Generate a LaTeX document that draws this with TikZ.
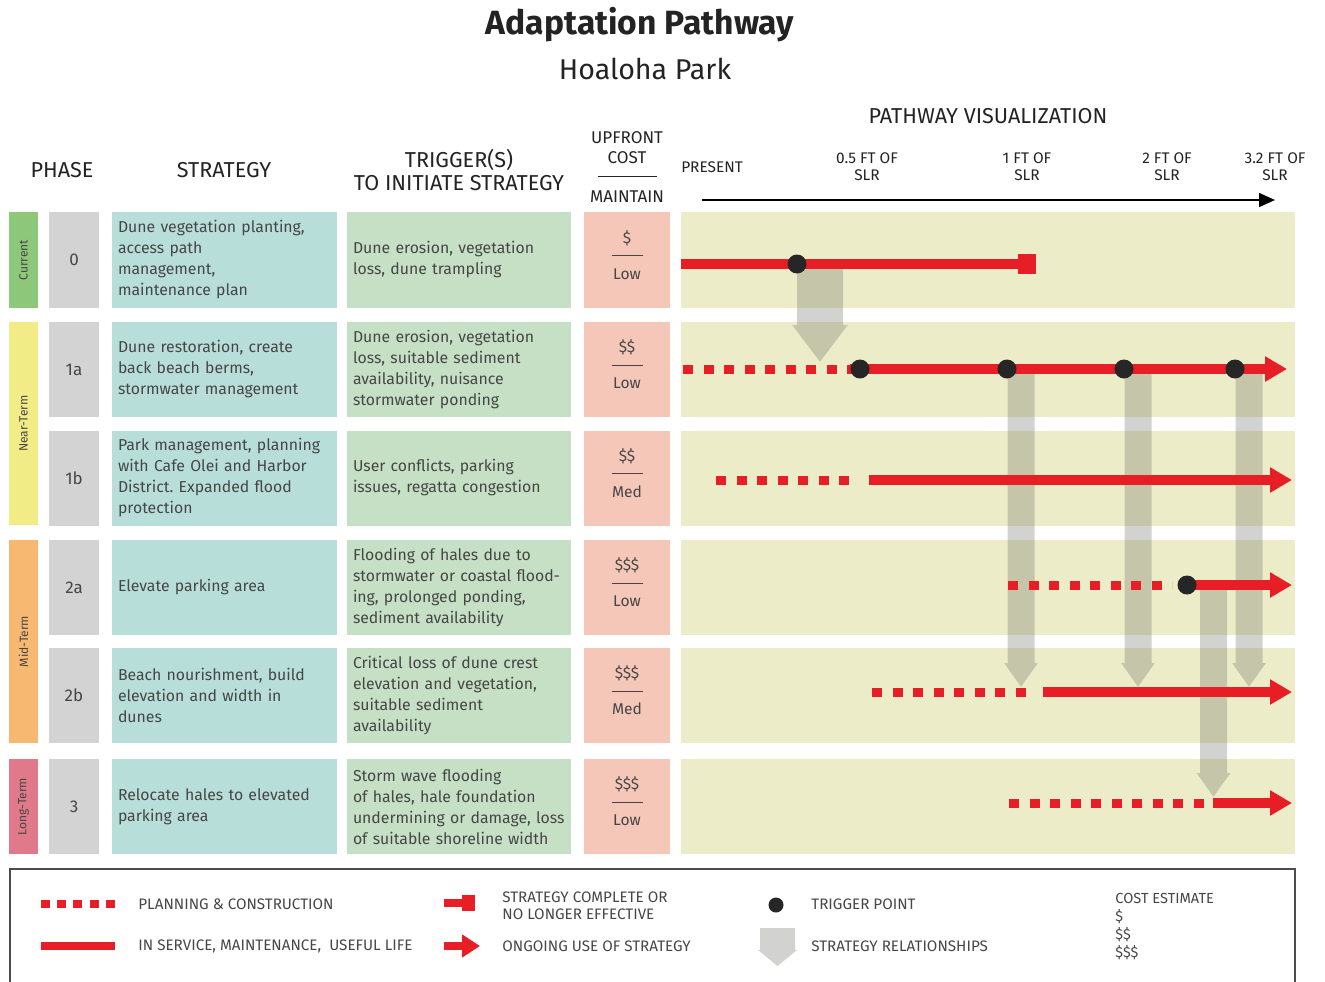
\documentclass[tikz,border=0pt]{standalone}
\usepackage{fontspec}
\setmainfont{Fira Sans}
\usetikzlibrary{arrows.meta,positioning}
\frenchspacing

\definecolor{txtgray}{RGB}{70,70,70}
\definecolor{hdrgray}{RGB}{35,35,35}
\definecolor{curgreen}{RGB}{141,199,121}
\definecolor{nearyellow}{RGB}{241,236,133}
\definecolor{midorange}{RGB}{247,185,114}
\definecolor{longpink}{RGB}{224,122,138}
\definecolor{numgray}{RGB}{211,211,211}
\definecolor{stratteal}{RGB}{184,222,218}
\definecolor{triggreen}{RGB}{197,224,196}
\definecolor{costpink}{RGB}{244,199,184}
\definecolor{bandcol}{RGB}{236,237,200}
\definecolor{pathred}{RGB}{232,30,38}
\definecolor{relgray}{RGB}{105,105,100}

\tikzset{
  phasebar/.style={fill=#1, rotate=90, minimum height=14.5pt, inner sep=0pt,
    text=txtgray, font=\fontsize{6}{7}\selectfont},
  numbox/.style={fill=numgray, minimum width=25pt, minimum height=47.5pt,
    text=txtgray, font=\fontsize{8.5}{10}\selectfont},
  stratbox/.style={fill=stratteal, text width=106.5pt, inner xsep=3pt,
    minimum height=47.5pt, align=left, text=txtgray, font=\fontsize{7.9}{10.5}\selectfont},
  trigbox/.style={fill=triggreen, text width=106pt, inner xsep=3pt,
    minimum height=47.5pt, align=left, text=txtgray, font=\fontsize{7.9}{10.5}\selectfont},
  costbox/.style={fill=costpink, minimum width=43pt, minimum height=47.5pt,
    text depth=5pt, align=center, text=txtgray, font=\fontsize{7.8}{9}\selectfont},
  band/.style={fill=bandcol, minimum width=307pt, minimum height=47.5pt, inner sep=0pt},
  plan/.style={pathred, line width=4.5pt, dash pattern=on 5pt off 5.25pt},
  serve/.style={pathred, line width=5pt},
  ongoing/.style={serve, -{Triangle[length=11pt,width=12pt]}},
  ended/.style={serve, -{Square[length=9pt,width=10pt]}},
  trig/.style={circle, fill=black!85, minimum size=9.5pt, inner sep=0pt},
  rel/.style={relgray, line width=13.5pt, -{Triangle[length=12pt,width=16pt]}},
  bigrel/.style={relgray, line width=23pt, -{Triangle[length=18.5pt,width=26.5pt]}},
  hdr/.style={text=hdrgray, font=\fontsize{10.8}{11.5}\selectfont, align=center},
  slr/.style={text=hdrgray, font=\fontsize{7.7}{8.5}\selectfont, align=center},
  legtxt/.style={anchor=west, inner xsep=0pt, text=txtgray, font=\fontsize{7.6}{8.5}\selectfont, align=left},
}

\begin{document}
\begin{tikzpicture}[x=0.5pt,y=-0.5pt]
\useasboundingbox (0,0) rectangle (1325,981);

% titles and column heads
\node[text=hdrgray, font=\bfseries\fontsize{16.8}{20}\selectfont] (title) at (640,25) {Adaptation Pathway};
\node[text=hdrgray, font=\fontsize{14.3}{16}\selectfont] (park) at (645,69) {Hoaloha Park};
\node[hdr] (pathhd) at (988,116) {PATHWAY VISUALIZATION};
\node[hdr] (phasehd) at (62,170) {PHASE};
\node[hdr] (strathd) at (224,170) {STRATEGY};
\node[hdr] (trighd) at (459,170) {TRIGGER(S)\\TO INITIATE STRATEGY};
\node[hdr, font=\fontsize{8.5}{10}\selectfont] (costhd) at (627,167.5)
  {UPFRONT\\COST\\[-3.4pt]\rule{29.5pt}{0.5pt}\\[2.9pt]MAINTAIN};

% time axis
\node[slr] (present) at (712,167) {PRESENT};
\node[slr] (slr05) at (867,166.5) {0.5 FT OF\\SLR};
\node[slr] (slr1) at (1027,166.5) {1 FT OF\\SLR};
\node[slr] (slr2) at (1167,166.5) {2 FT OF\\SLR};
\node[slr] (slr32) at (1275,166.5) {3.2 FT OF\\SLR};
\coordinate (ax0) at (702,200);
\coordinate (ax1) at (1275,200);
\draw[line width=0.75pt, -{Triangle[length=8pt,width=7pt]}] (ax0) -- (ax1);

% phase bars
\node[phasebar=curgreen, minimum width=48pt] (cur) at (23.5,260) {Current};
\node[phasebar=nearyellow, minimum width=101.5pt] (near) at (23.5,423.5) {Near-Term};
\node[phasebar=midorange, minimum width=101.5pt] (mid) at (23.5,641.5) {Mid-Term};
\node[phasebar=longpink, minimum width=47.5pt] (long) at (23.5,806.5) {Long-Term};

% strategy numbers
\node[numbox, minimum height=48pt] (n0) at (74,260) {0};
\node[numbox] (n1a) at (74,369.5) {1a};
\node[numbox] (n1b) at (74,478) {1b};
\node[numbox] (n2a) at (74,587.5) {2a};
\node[numbox] (n2b) at (74,695.5) {2b};
\node[numbox] (n3) at (74,806.5) {3};

% strategies
\node[stratbox, minimum height=48pt] (s0) at (224.5,260) {Dune vegetation planting,\\access path\\management,\\maintenance plan};
\node[stratbox] (s1a) at (224.5,369.5) {Dune restoration, create\\back beach berms,\\stormwater management};
\node[stratbox] (s1b) at (224.5,478) {Park management, planning\\with Cafe Olei and Harbor\\District. Expanded flood\\protection};
\node[stratbox] (s2a) at (224.5,587.5) {Elevate parking area};
\node[stratbox] (s2b) at (224.5,695.5) {Beach nourishment, build\\elevation and width in\\dunes};
\node[stratbox] (s3) at (224.5,806.5) {Relocate hales to elevated\\parking area};

% triggers
\node[trigbox, minimum height=48pt] (tr0) at (459,260) {Dune erosion, vegetation\\loss, dune trampling};
\node[trigbox] (tr1a) at (459,369.5) {Dune erosion, vegetation\\loss, suitable sediment\\availability, nuisance\\stormwater ponding};
\node[trigbox] (tr1b) at (459,478) {User conflicts, parking\\issues, regatta congestion};
\node[trigbox] (tr2a) at (459,587.5) {Flooding of hales due to\\stormwater or coastal flood-\\ing, prolonged ponding,\\sediment availability};
\node[trigbox] (tr2b) at (459,695.5) {Critical loss of dune crest\\elevation and vegetation,\\suitable sediment\\availability};
\node[trigbox] (tr3) at (459,806.5) {Storm wave flooding\\of hales, hale foundation\\undermining or damage, loss\\of suitable shoreline width};

% costs
\node[costbox, minimum height=48pt] (c0) at (627,260) {\$\\[-2.5pt]\rule{15.5pt}{0.5pt}\\[2.5pt]Low};
\node[costbox] (c1a) at (627,369.5) {\$\$\\[-2.5pt]\rule{15.5pt}{0.5pt}\\[2.5pt]Low};
\node[costbox] (c1b) at (627,478) {\$\$\\[-2.5pt]\rule{15.5pt}{0.5pt}\\[2.5pt]Med};
\node[costbox] (c2a) at (627,587.5) {\$\$\$\\[-2.5pt]\rule{15.5pt}{0.5pt}\\[2.5pt]Low};
\node[costbox] (c2b) at (627,695.5) {\$\$\$\\[-2.5pt]\rule{15.5pt}{0.5pt}\\[2.5pt]Med};
\node[costbox] (c3) at (627,806.5) {\$\$\$\\[-2.5pt]\rule{15.5pt}{0.5pt}\\[2.5pt]Low};

% pathway bands
\node[band, minimum height=48pt] (b0) at (988,260) {};
\node[band] (b1a) at (988,369.5) {};
\node[band] (b1b) at (988,478) {};
\node[band] (b2a) at (988,587.5) {};
\node[band] (b2b) at (988,695.5) {};
\node[band] (b3) at (988,806.5) {};

% trigger points
\coordinate (k0) at (797,264);
\coordinate (k1) at (860,369);
\coordinate (k2) at (1007,369);
\coordinate (k3) at (1124,369);
\coordinate (k4) at (1235,369);
\coordinate (k5) at (1187,585);

% where the relationships land
\coordinate (g0) at (820,362);
\coordinate (g2) at (1021,687);
\coordinate (g3) at (1138,687);
\coordinate (g4) at (1249,687);
\coordinate (g5) at (1213.5,797);

\begin{scope}[opacity=0.3, transparency group]
\draw[bigrel] ([xshift=11.5pt]k0) -- (g0);
\draw[rel] ([xshift=7pt]k2) -- (g2);
\draw[rel] ([xshift=7pt]k3) -- (g3);
\draw[rel] ([xshift=7pt]k4) -- (g4);
\draw[rel] ([xshift=13.25pt]k5) -- (g5);
\end{scope}

% strategy lines
\coordinate (p0a) at (681,264);
\coordinate (p0b) at (1036,264);
\draw[ended] (p0a) -- (p0b);

\coordinate (p1a) at (683,369);
\coordinate (q1a) at (850,369);
\coordinate (e1a) at (1287,369);
\draw[plan] (p1a) -- (q1a);
\draw[ongoing] (q1a) -- (e1a);

\coordinate (p1b) at (716,480);
\coordinate (q1b) at (856,480);
\coordinate (r1b) at (869,480);
\coordinate (e1b) at (1292,480);
\draw[plan] (p1b) -- (q1b);
\draw[ongoing] (r1b) -- (e1b);

\coordinate (p2a) at (1008,585);
\coordinate (q2a) at (1172,585);
\coordinate (e2a) at (1292,585);
\draw[plan] (p2a) -- (q2a);
\draw[ongoing] (k5) -- (e2a);

\coordinate (p2b) at (872,692);
\coordinate (q2b) at (1027,692);
\coordinate (r2b) at (1043,692);
\coordinate (e2b) at (1292,692);
\draw[plan] (p2b) -- (q2b);
\draw[ongoing] (r2b) -- (e2b);

\coordinate (p3) at (1009,803);
\coordinate (q3) at (1206,803);
\coordinate (r3) at (1213,803);
\coordinate (e3) at (1292,803);
\draw[plan] (p3) -- (q3);
\draw[ongoing] (r3) -- (e3);

\node[trig] (dot0) at (k0) {};
\node[trig] (dot1) at (k1) {};
\node[trig] (dot2) at (k2) {};
\node[trig] (dot3) at (k3) {};
\node[trig] (dot4) at (k4) {};
\node[trig] (dot5) at (k5) {};

% legend
\draw[black!70, line width=0.6pt] (10,869) rectangle (1295,1000);

\coordinate (lg1a) at (41,904);
\coordinate (lg1b) at (115,904);
\draw[plan, line width=4pt, dash pattern=on 4.5pt off 3.6pt] (lg1a) -- (lg1b);
\node[legtxt] (lt1) at (138,904) {PLANNING \& CONSTRUCTION};

\coordinate (lg2a) at (41,946);
\coordinate (lg2b) at (115,946);
\draw[serve, line width=4pt] (lg2a) -- (lg2b);
\node[legtxt] (lt2) at (138,946) {IN SERVICE, MAINTENANCE,\ \ USEFUL LIFE};

\coordinate (lg3a) at (444,903);
\coordinate (lg3b) at (475,903);
\draw[serve, line width=4pt, -{Square[length=6.5pt,width=8pt]}] (lg3a) -- (lg3b);
\node[legtxt] (lt3) at (502,905.5) {STRATEGY COMPLETE OR\\NO LONGER EFFECTIVE};

\coordinate (lg4a) at (444,946);
\coordinate (lg4b) at (480,946);
\draw[serve, line width=4pt, -{Triangle[length=9pt,width=11pt]}] (lg4a) -- (lg4b);
\node[legtxt] (lt4) at (502,946) {ONGOING USE OF STRATEGY};

\node[trig, minimum size=7.5pt] (ldot) at (776,905) {};
\node[legtxt] (lt5) at (811,904) {TRIGGER POINT};

\coordinate (lg6a) at (777.5,928);
\coordinate (lg6b) at (777.5,966);
\begin{scope}[opacity=0.3, transparency group]
\draw[relgray, line width=17.5pt, -{Triangle[length=8pt,width=19pt]}] (lg6a) -- (lg6b);
\end{scope}
\node[legtxt] (lt6) at (811,946) {STRATEGY RELATIONSHIPS};

\node[legtxt, font=\fontsize{7.3}{9}\selectfont] (lt7) at (1115,926) {COST ESTIMATE\\\$\\\$\$\\\$\$\$};
\end{tikzpicture}
\end{document}
